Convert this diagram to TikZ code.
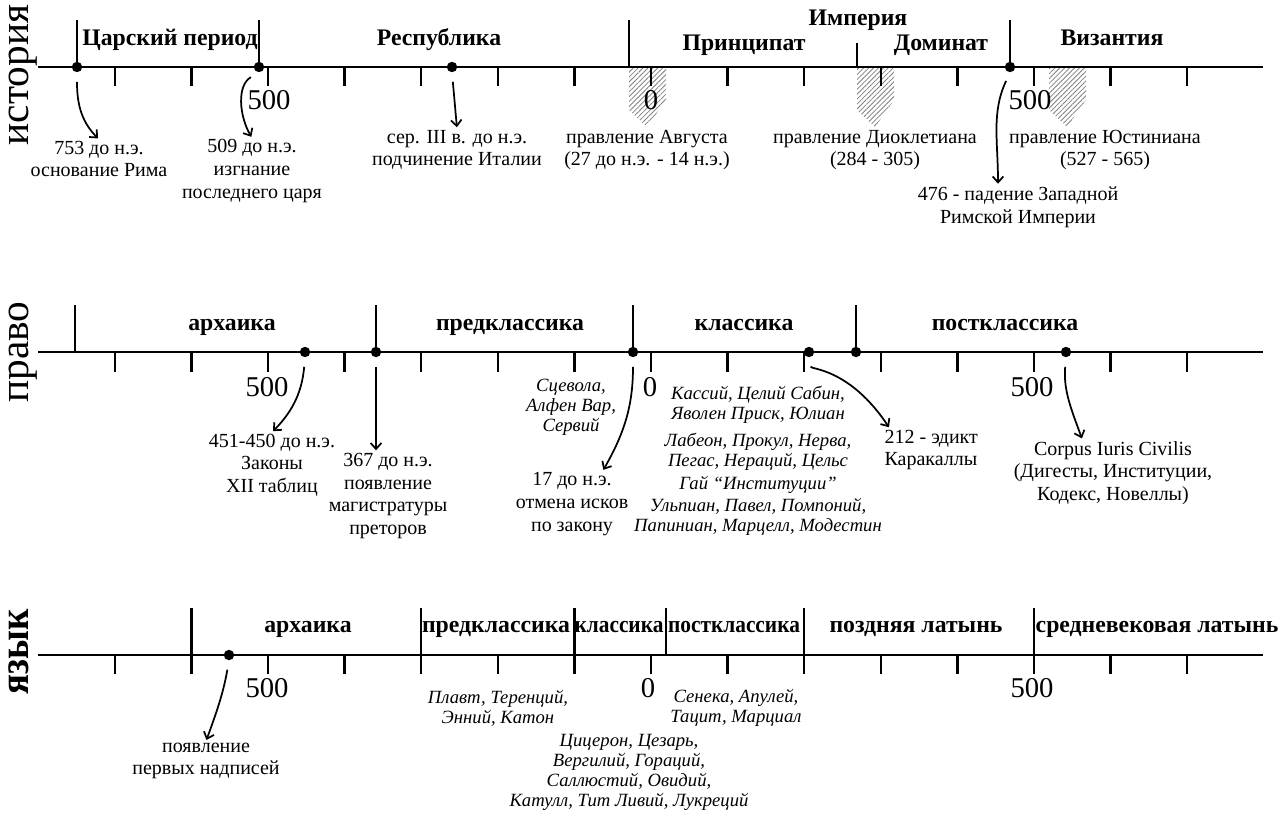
\documentclass[tikz,border=0pt]{standalone}
\usepackage{fontspec}
\setmainfont{Liberation Serif}
\usepackage{tikz}
\usetikzlibrary{arrows.meta,patterns.meta}
\tikzset{
    timeline/.style={line width=2pt},
    yeartick/.style={line width=1.7pt},
    border/.style={line width=1.7pt},
    eventdot/.style={circle, fill, inner sep=0pt, minimum size=7.8pt},
    pointer/.style={-{Straight Barb[length=4.5pt, width=8pt]}, line width=1.3pt, shorten <=7pt, shorten >=1pt},
    era/.style={font=\bfseries\fontsize{17.8}{20}\selectfont, inner sep=0pt, anchor=base},
    eventtext/.style={align=center, font=\fontsize{15}{17}\selectfont, inner sep=1pt},
    authors/.style={align=center, font=\itshape\fontsize{14}{15}\selectfont, inner sep=1pt},
    yearlabel/.style={font=\fontsize{21.5}{23}\selectfont, inner sep=0pt},
    rowlabel/.style={rotate=90, anchor=base, font=\fontsize{31}{33}\selectfont},
    reignhatch/.style={pattern={Lines[angle=45, distance=2.6pt, line width=0.6pt]}, pattern color=gray}
}

\begin{document}
\begin{tikzpicture}[x=0.75pt, y=0.75pt]
    \useasboundingbox (0,0) rectangle (1280,-814);

    % история
    \foreach \x in {629,857,1049}
        \fill[reignhatch] (\x,-68) -- ++(37,0) -- ++(0,-32) -- ++(-19,-27) -- ++(-18,17) -- cycle;
    \draw[timeline] (38,-67) -- (1263,-67);
    \foreach \k in {-7,...,7}
        \draw[yeartick] ({651+76.6*\k},-67) -- ++(0,-19);
    \foreach \x in {77,259,629,1010}
        \draw[border] (\x,-20) -- (\x,-67);
    \draw[border] (857,-43) -- (857,-67);

    \node[rowlabel] (hist) at (28,-75) {история};
    \node[era] (tsar) at (170,-45) {Царский период};
    \node[era] (rep) at (439,-45) {Республика};
    \node[era] (emp) at (858,-25) {Империя};
    \node[era] (prin) at (744,-50) {Принципат};
    \node[era] (dom) at (941,-50) {Доминат};
    \node[era] (byz) at (1112,-45) {Византия};

    \node[yearlabel] (ha) at (269,-100) {500};
    \node[yearlabel] (hb) at (651,-100) {0};
    \node[yearlabel] (hc) at (1030,-100) {500};

    \node[eventdot] (d753) at (77,-67) {};
    \node[eventdot] (d509) at (259,-67) {};
    \node[eventdot] (dIII) at (452,-67) {};
    \node[eventdot] (d476) at (1010,-67) {};

    \node[eventtext] (t753) at (99,-159) {753 до н.э.\\основание Рима};
    \node[eventtext] (t509) at (252,-171) {509 до н.э.\\изгнание\\последнего царя};
    \node[eventtext] (tIII) at (457,-150) {сер. III в. до н.э.\\подчинение Италии};
    \node[eventtext] (tAug) at (647,-150) {правление Августа\\(27 до н.э. - 14 н.э.)};
    \node[eventtext] (tDio) at (875,-150) {правление Диоклетиана\\(284 - 305)};
    \node[eventtext] (tJus) at (1105,-150) {правление Юстиниана\\(527 - 565)};
    \node[eventtext] (t476) at (1018,-207) {476 - падение Западной\\Римской Империи};

    \draw[pointer] (d753.south) to[out=-90, in=135] (t753.north);
    \draw[pointer] (d509.south) to[out=210, in=120] (t509.north);
    \draw[pointer] (dIII.south) -- (tIII.north);
    \draw[pointer] (d476.south) to[out=-115, in=90] ([xshift=-15pt]t476.north);

    % право
    \draw[timeline] (38,-352) -- (1263,-352);
    \foreach \k in {-7,...,7}
        \draw[yeartick] ({651+76.6*\k},-352) -- ++(0,-20);
    \foreach \x in {75,376,633,856}
        \draw[border] (\x,-305) -- (\x,-352);

    \node[rowlabel] (law) at (28,-352) {право};
    \node[era] (larch) at (232,-330) {архаика};
    \node[era] (lpre) at (510,-330) {предклассика};
    \node[era] (lclass) at (744,-330) {классика};
    \node[era] (lpost) at (1005,-330) {постклассика};

    \node[yearlabel] (la) at (267,-387) {500};
    \node[yearlabel] (lb) at (650,-387) {0};
    \node[yearlabel] (lc) at (1032,-387) {500};

    \node[eventdot] (d451) at (305,-352) {};
    \node[eventdot] (d367) at (376,-352) {};
    \node[eventdot] (d17) at (633,-352) {};
    \node[eventdot] (d212) at (809,-352) {};
    \node[eventdot] (d284) at (856,-352) {};
    \node[eventdot] (dCorp) at (1066,-352) {};

    \node[eventtext] (t451) at (272,-465) {451-450 до н.э.\\Законы\\XII таблиц};
    \node[eventtext] (t367) at (388,-496) {367 до н.э.\\появление\\магистратуры\\преторов};
    \node[authors] (tScev) at (571,-407) {Сцевола,\\Алфен Вар,\\Сервий};
    \node[eventtext] (t17) at (572,-504) {17 до н.э.\\отмена исков\\по закону};
    \node[authors] (tJur) at (758,-461) {Кассий, Целий Сабин,\\Яволен Приск, Юлиан\\[5pt]
        Лабеон, Прокул, Нерва,\\Пегас, Нераций, Цельс\\[2pt]Гай “Институции”\\[2pt]
        Ульпиан, Павел, Помпоний,\\Папиниан, Марцелл, Модестин};
    \node[eventtext, align=left, anchor=west] (t212) at (883,-450) {212 - эдикт\\Каракаллы};
    \node[eventtext] (tCorp) at (1113,-473) {Corpus Iuris Civilis\\(Дигесты, Институции,\\Кодекс, Новеллы)};

    \draw[pointer] (d451.south) to[out=-95, in=45] (t451.north);
    \draw[pointer] (d367.south) -- (d367.south |- t367.north);
    \draw[pointer] (d17.south) to[out=-90, in=60] ([xshift=23pt]t17.north);
    \draw[pointer] (d212.south) .. controls +(2,-12) and +(-40,60) .. ([xshift=5pt]t212.north west);
    \draw[pointer] (dCorp.south) to[out=-95, in=110] ([xshift=-23pt]tCorp.north);

    % язык
    \draw[timeline] (38,-655) -- (1263,-655);
    \foreach \k in {-7,...,7}
        \draw[yeartick] ({651+76.6*\k},-655) -- ++(0,-19);
    \foreach \k in {-6,-3,-1,2,5}
        \draw[border] ({651+76.6*\k},-608) -- ++(0,-47);
    \draw[border] (666,-608) -- (666,-655);

    \node[rowlabel, font=\bfseries\fontsize{31.5}{33}\selectfont] (lang) at (28,-652) {\scalebox{0.88}[1]{язык}};
    \node[era] (aarch) at (308,-632) {архаика};
    \node[era] (apre) at (496,-632) {предклассика};
    \node[era] (aclass) at (619,-632) {\scalebox{0.9}[1]{классика}};
    \node[era] (apost) at (734,-632) {\scalebox{0.9}[1]{постклассика}};
    \node[era] (alate) at (916,-632) {поздняя латынь};
    \node[era] (amed) at (1157,-632) {средневековая латынь};

    \node[yearlabel] (aa) at (267,-688) {500};
    \node[yearlabel] (ab) at (648,-688) {0};
    \node[yearlabel] (ac) at (1032,-688) {500};

    \node[eventdot] (dInscr) at (229,-655) {};
    \node[eventtext] (tInscr) at (206,-761) {появление\\первых надписей};
    \node[authors] (tPlaut) at (498,-708) {Плавт, Теренций,\\Энний, Катон};
    \node[authors] (tSen) at (736,-708) {Сенека, Апулей,\\Тацит, Марциал};
    \node[authors] (tCic) at (629,-772) {Цицерон, Цезарь,\\Вергилий, Гораций,\\Саллюстий, Овидий,\\Катулл, Тит Ливий, Лукреций};

    \draw[pointer] (dInscr.south) to[out=-100, in=70] (tInscr.north);
\end{tikzpicture}
\end{document}
